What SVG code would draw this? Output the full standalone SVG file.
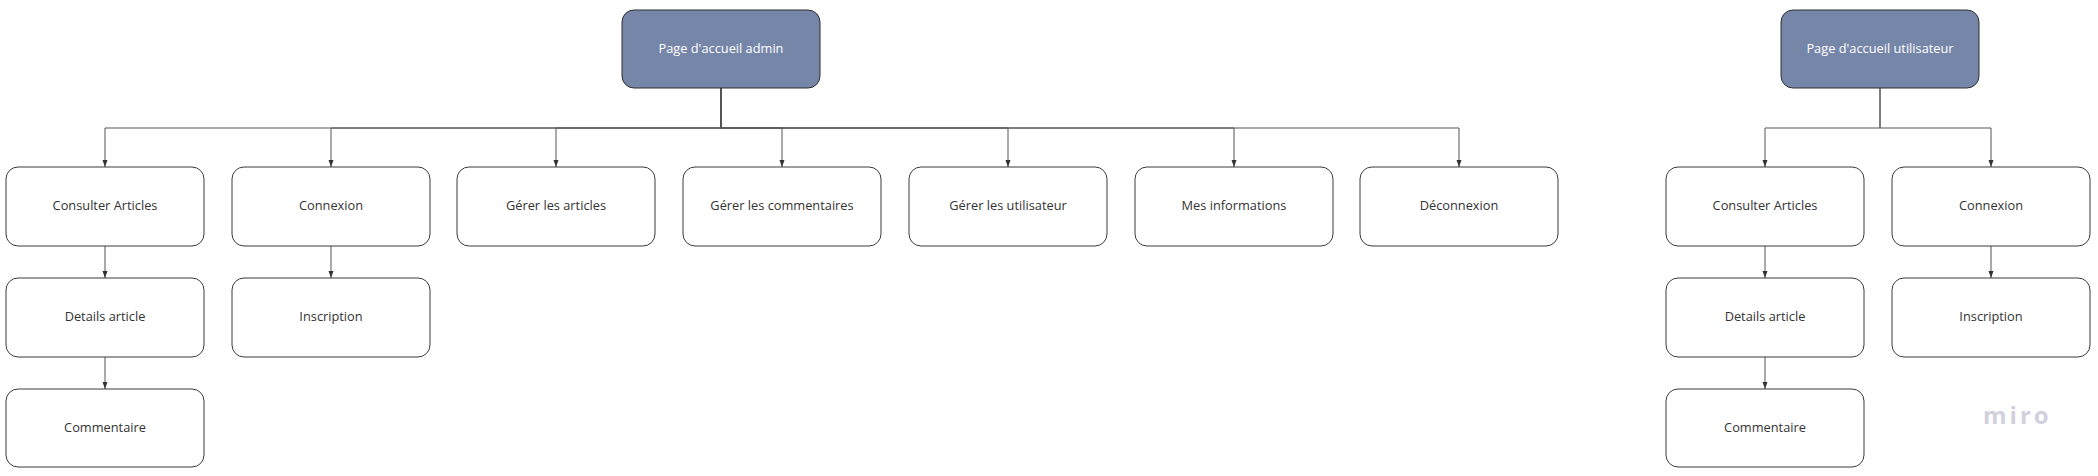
<svg xmlns="http://www.w3.org/2000/svg" width="2098" height="476" viewBox="0 0 2098 476">
<style>
.box{fill:#ffffff;stroke:#3a3a3a;stroke-width:1}
.hdr{fill:#7686a9;stroke:#2e2e2e;stroke-width:1}
.t{font-family:"Open Sans","Noto Sans","Liberation Sans",sans-serif;font-size:12.8px;fill:#333333;text-anchor:middle}
.th{font-family:"Open Sans","Noto Sans","Liberation Sans",sans-serif;font-size:12.8px;fill:#ffffff;text-anchor:middle}
.c{fill:none;stroke:#555555;stroke-width:1;stroke-linejoin:round;marker-end:url(#arr)}
.logo{font-family:"Open Sans","Noto Sans",sans-serif;font-weight:700;font-size:24px;fill:#d2d0dc;letter-spacing:3px}
</style>
<defs>
<marker id="arr" markerUnits="userSpaceOnUse" markerWidth="8" markerHeight="6" refX="7" refY="3" orient="auto">
<path d="M0,0.5 L7,3 L0,5.5 z" fill="#333333"/>
</marker>
</defs>
<rect width="2098" height="476" fill="#ffffff"/>
<g id="connectors">
<path class="c" d="M721,88 V128 H105 V167"/>
<path class="c" d="M721,88 V128 H331 V167"/>
<path class="c" d="M721,88 V128 H556 V167"/>
<path class="c" d="M721,88 V128 H782 V167"/>
<path class="c" d="M721,88 V128 H1008 V167"/>
<path class="c" d="M721,88 V128 H1234 V167"/>
<path class="c" d="M721,88 V128 H1459 V167"/>
<path class="c" d="M105,246 V278"/>
<path class="c" d="M105,357 V389"/>
<path class="c" d="M331,246 V278"/>
<path class="c" d="M1880,88 V128 H1765 V167"/>
<path class="c" d="M1880,88 V128 H1991 V167"/>
<path class="c" d="M1765,246 V278"/>
<path class="c" d="M1765,357 V389"/>
<path class="c" d="M1991,246 V278"/>
</g>
<g id="admin-home"><rect class="hdr" x="622" y="10" width="198" height="78" rx="12"/><text class="th" x="721" y="52.5">Page d'accueil admin</text></g>
<g id="a-consulter"><rect class="box" x="6" y="167" width="198" height="79" rx="12"/><text class="t" x="105" y="209.5">Consulter Articles</text></g>
<g id="a-connexion"><rect class="box" x="232" y="167" width="198" height="79" rx="12"/><text class="t" x="331" y="209.5">Connexion</text></g>
<g id="a-gerer-articles"><rect class="box" x="457" y="167" width="198" height="79" rx="12"/><text class="t" x="556" y="209.5">Gérer les articles</text></g>
<g id="a-gerer-commentaires"><rect class="box" x="683" y="167" width="198" height="79" rx="12"/><text class="t" x="782" y="209.5">Gérer les commentaires</text></g>
<g id="a-gerer-utilisateur"><rect class="box" x="909" y="167" width="198" height="79" rx="12"/><text class="t" x="1008" y="209.5">Gérer les utilisateur</text></g>
<g id="a-mes-infos"><rect class="box" x="1135" y="167" width="198" height="79" rx="12"/><text class="t" x="1234" y="209.5">Mes informations</text></g>
<g id="a-deconnexion"><rect class="box" x="1360" y="167" width="198" height="79" rx="12"/><text class="t" x="1459" y="209.5">Déconnexion</text></g>
<g id="a-details"><rect class="box" x="6" y="278" width="198" height="79" rx="12"/><text class="t" x="105" y="320.5">Details article</text></g>
<g id="a-inscription"><rect class="box" x="232" y="278" width="198" height="79" rx="12"/><text class="t" x="331" y="320.5">Inscription</text></g>
<g id="a-commentaire"><rect class="box" x="6" y="389" width="198" height="78" rx="12"/><text class="t" x="105" y="431.5">Commentaire</text></g>
<g id="user-home"><rect class="hdr" x="1781" y="10" width="198" height="78" rx="12"/><text class="th" x="1880" y="52.5">Page d'accueil utilisateur</text></g>
<g id="u-consulter"><rect class="box" x="1666" y="167" width="198" height="79" rx="12"/><text class="t" x="1765" y="209.5">Consulter Articles</text></g>
<g id="u-connexion"><rect class="box" x="1892" y="167" width="198" height="79" rx="12"/><text class="t" x="1991" y="209.5">Connexion</text></g>
<g id="u-details"><rect class="box" x="1666" y="278" width="198" height="79" rx="12"/><text class="t" x="1765" y="320.5">Details article</text></g>
<g id="u-inscription"><rect class="box" x="1892" y="278" width="198" height="79" rx="12"/><text class="t" x="1991" y="320.5">Inscription</text></g>
<g id="u-commentaire"><rect class="box" x="1666" y="389" width="198" height="78" rx="12"/><text class="t" x="1765" y="431.5">Commentaire</text></g>
<text class="logo" x="1983" y="424">miro</text>
</svg>
